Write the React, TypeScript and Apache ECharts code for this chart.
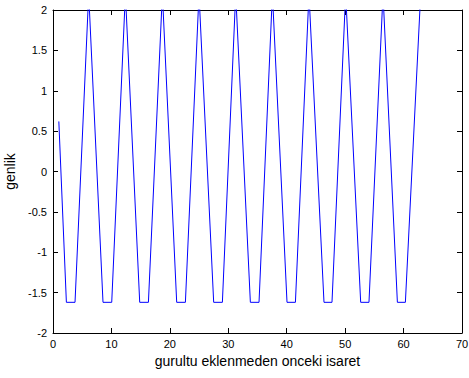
import React, { useEffect, useRef } from "react";
import * as echarts from "echarts";

// Values
const xTickValues = [0, 10, 20, 30, 40, 50, 60, 70];
const yTickValues = [-2, -1.5, -1, -0.5, 0, 0.5, 1, 1.5, 2];
const startPoint = [1, 0.62];
const troughStarts = [2.29, 8.56, 14.84, 21.17, 27.5, 33.78, 40.05, 46.38, 52.66, 58.94];
const troughEnds = [3.77, 10.05, 16.33, 22.66, 28.99, 35.26, 41.49, 47.75, 54.08, 60.31];
const troughLevel = -1.62;
const peakXs = [6.11, 12.39, 18.72, 24.99, 31.27, 37.55, 43.81, 50.09, 56.48];
const peakLevel = 2.2;
const endPoint = [63, 2.3];

const xName = "gurultu eklenmeden onceki isaret";
const yName = "genlik";

export default function App() {
  const ref = useRef<HTMLDivElement>(null);
  useEffect(() => {
    const chart = echarts.init(ref.current!, null, { renderer: "svg" });
    const data: number[][] = [startPoint];
    troughStarts.forEach((s, i) => {
      data.push([s, troughLevel], [troughEnds[i], troughLevel]);
      if (i < peakXs.length) data.push([peakXs[i], peakLevel]);
    });
    data.push(endPoint);

    const font = "Arial, 'Liberation Sans', sans-serif";
    const axisLine = { show: true, onZero: false, lineStyle: { color: "#000", width: 1 } };
    const tick = { show: true, inside: true, length: 5, lineStyle: { color: "#000", width: 1 } };
    const xMin = xTickValues[0];
    const xMax = xTickValues[xTickValues.length - 1];
    const xInt = xTickValues[1] - xTickValues[0];
    const yMin = yTickValues[0];
    const yMax = yTickValues[yTickValues.length - 1];
    const yInt = yTickValues[1] - yTickValues[0];

    chart.setOption({
      animation: false,
      backgroundColor: "#fff",
      grid: { left: 53, right: 7, top: 10, bottom: 45, containLabel: false, outerBoundsMode: "none" },
      xAxis: [
        {
          type: "value", min: xMin, max: xMax, interval: xInt, position: "bottom",
          name: xName, nameLocation: "middle", nameGap: 20,
          nameTextStyle: { fontFamily: font, fontSize: 14, color: "#000" },
          axisLine, axisTick: tick,
          axisLabel: { color: "#000", fontFamily: font, fontSize: 11, margin: 5 },
          splitLine: { show: false },
        },
        {
          type: "value", min: xMin, max: xMax, interval: xInt, position: "top",
          axisLine, axisTick: tick, axisLabel: { show: false }, splitLine: { show: false },
        },
      ],
      yAxis: [
        {
          type: "value", min: yMin, max: yMax, interval: yInt, position: "left",
          name: yName, nameLocation: "middle", nameGap: 34, nameRotate: 90,
          nameTextStyle: { fontFamily: font, fontSize: 14, color: "#000" },
          axisLine, axisTick: tick,
          axisLabel: { color: "#000", fontFamily: font, fontSize: 11, margin: 6 },
          splitLine: { show: false },
        },
        {
          type: "value", min: yMin, max: yMax, interval: yInt, position: "right",
          axisLine, axisTick: tick, axisLabel: { show: false }, splitLine: { show: false },
        },
      ],
      series: [
        {
          type: "line",
          data,
          symbol: "none",
          showSymbol: false,
          clip: true,
          lineStyle: { color: "#0000ff", width: 1 },
        },
      ],
    });
    return () => chart.dispose();
  }, []);
  return <div ref={ref} style={{ position: "fixed", left: 0, top: 0, width: 469, height: 378 }} />;
}
